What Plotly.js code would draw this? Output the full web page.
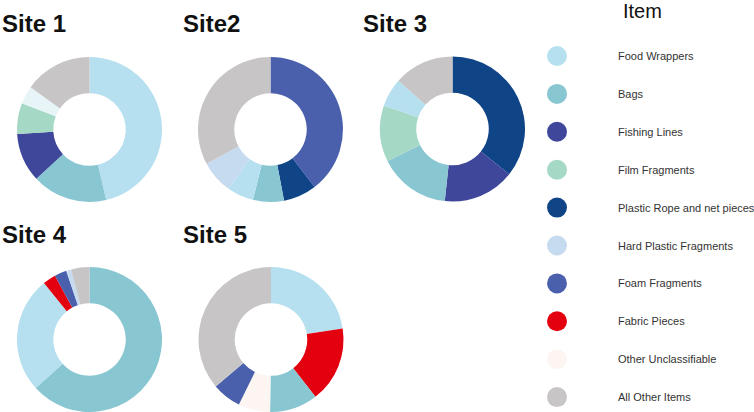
<!DOCTYPE html>
<html>
<head>
<meta charset="utf-8">
<script src="https://cdn.plot.ly/plotly-3.0.1.min.js"></script>
<style>html,body{margin:0;padding:0;background:#fff;}#chart{width:754px;height:412px;}</style>
</head>
<body>
<div id="chart"></div>
<script>
// Legend items (category order) and colours
const items = ["Food Wrappers","Bags","Fishing Lines","Film Fragments","Plastic Rope and net pieces","Hard Plastic Fragments","Foam Fragments","Fabric Pieces","Other Unclassifiable","All Other Items"];
const itemColors = ["#b6e0ef","#88c6d2","#3f479b","#a6d9c5","#0f4487","#c6daf0","#4a60ad","#e3000f","#fdf5f1","#c8c5c7"];

// Site titles
const siteTitles = ["Site 1","Site2","Site 3","Site 4","Site 5"];

// Per-site slices (clockwise from 12 o'clock), percentages
const site1Labels = ["Food Wrappers","Bags","Fishing Lines","Film Fragments","Other Unclassifiable","All Other Items"];
const site1Values = [46.3, 16.8, 10.9, 6.9, 4.0, 15.1];
const site2Labels = ["Foam Fragments","Plastic Rope and net pieces","Bags","Food Wrappers","Hard Plastic Fragments","All Other Items"];
const site2Values = [39.6, 7.4, 6.9, 5.9, 7.4, 32.8];
const site3Labels = ["Plastic Rope and net pieces","Fishing Lines","Bags","Film Fragments","Food Wrappers","All Other Items"];
const site3Values = [35.7, 16.0, 16.0, 12.5, 6.4, 13.4];
const site4Labels = ["Bags","Food Wrappers","Fabric Pieces","Foam Fragments","Hard Plastic Fragments","All Other Items"];
const site4Values = [63.3, 25.9, 2.9, 2.7, 1.1, 4.1];
const site5Labels = ["Food Wrappers","Fabric Pieces","Bags","Other Unclassifiable","Foam Fragments","All Other Items"];
const site5Values = [22.6, 16.9, 10.7, 7.1, 6.5, 36.2];

const W = 754, H = 412;
const px = x => x / W;
const py = y => 1 - y / H;

const sites = [
  {labels: site1Labels, values: site1Values, cx: 89.5, cy: 129.5, tx: 0, ty: 24, override: {"Other Unclassifiable": "#e8f5f8"}},
  {labels: site2Labels, values: site2Values, cx: 270.5, cy: 129.5, tx: 181, ty: 24},
  {labels: site3Labels, values: site3Values, cx: 452.5, cy: 129, tx: 361, ty: 24},
  {labels: site4Labels, values: site4Values, cx: 89.5, cy: 339.5, tx: 0, ty: 234},
  {labels: site5Labels, values: site5Values, cx: 271, cy: 339.5, tx: 181, ty: 234}
];
const R = 72.5;

const colorOf = (lab, ov) => (ov && ov[lab]) ? ov[lab] : itemColors[items.indexOf(lab)];

const data = sites.map(s => ({
  type: "pie",
  labels: s.labels,
  values: s.values,
  sort: false,
  direction: "clockwise",
  rotation: 0,
  hole: 0.5,
  textinfo: "none",
  hoverinfo: "label+percent",
  showlegend: false,
  marker: {colors: s.labels.map(l => colorOf(l, s.override)), line: {width: 0}},
  domain: {x: [px(s.cx - R), px(s.cx + R)], y: [py(s.cy + R), py(s.cy - R)]}
}));

const annotations = sites.map((s, i) => ({
  xref: "paper", yref: "paper", x: px(s.tx), y: py(s.ty),
  xanchor: "left", yanchor: "middle", showarrow: false,
  text: "<b>" + siteTitles[i] + "</b>",
  font: {family: "Liberation Sans, Arial, sans-serif", size: 24, color: "#111"}
}));

// Legend title
annotations.push({
  xref: "paper", yref: "paper", x: px(642), y: py(11),
  xanchor: "center", yanchor: "middle", showarrow: false,
  text: "Item", font: {family: "Liberation Sans, Arial, sans-serif", size: 20, color: "#111"}
});

const shapes = [];
items.forEach((it, i) => {
  const yc = 56 + i * 37.9;
  shapes.push({
    type: "circle", xref: "paper", yref: "paper",
    x0: px(547), x1: px(567), y0: py(yc + 10), y1: py(yc - 10),
    fillcolor: itemColors[i], line: {width: 0}
  });
  annotations.push({
    xref: "paper", yref: "paper", x: px(616), y: py(yc),
    xanchor: "left", yanchor: "middle", showarrow: false,
    text: it, font: {family: "Liberation Sans, Arial, sans-serif", size: 11, color: "#333"}
  });
});

const layout = {
  width: W, height: H,
  margin: {l: 0, r: 0, t: 0, b: 0},
  paper_bgcolor: "#fff",
  showlegend: false,
  annotations: annotations,
  shapes: shapes
};

Plotly.newPlot("chart", data, layout, {displayModeBar: false, staticPlot: true});
</script>
</body>
</html>
